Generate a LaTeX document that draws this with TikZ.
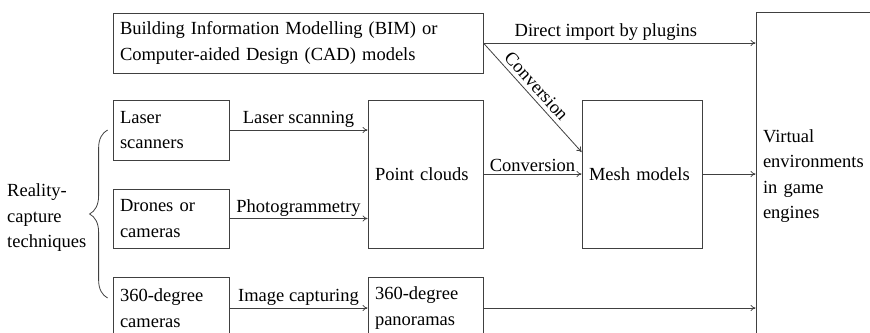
\documentclass[tikz,border=0pt]{standalone}
\usepackage{fontspec}
\setmainfont{Liberation Serif}
\usetikzlibrary{arrows.meta,decorations.pathreplacing}

\begin{document}
\begin{tikzpicture}[x=1pt, y=1pt,
  font=\fontsize{18.5}{25.5}\selectfont,
  box/.style={draw=black!75, line width=0.8pt, align=left, inner xsep=7pt, inner ysep=0pt},
  arr/.style={draw=black!75, line width=0.8pt, -{To[length=5pt,width=6pt]}},
  lbl/.style={inner sep=2pt}]

\useasboundingbox (0,0) rectangle (870,-332);
\clip (0,0) rectangle (870,-332);

\node [box, text width=356, minimum height=60] (bim) at (298,-43) {Building Information Modelling (BIM) or\\Computer-aided Design (CAD) models};

\node [box, text width=102, minimum height=60] (laser) at (171,-130) {Laser\\scanners};
\node [box, text width=102, minimum height=59] (drones) at (171,-218.5) {Drones or\\cameras};
\node [box, text width=102, minimum height=62] (cams) at (171,-308) {360-degree\\cameras};

\node [box, text width=101, minimum height=148] (pc) at (425.5,-174) {Point clouds};
\node [box, text width=101, minimum height=62] (pano) at (425.5,-308) {360-degree\\panoramas};

\node [box, text width=106, minimum height=148] (mesh) at (642,-174) {Mesh models};

\node [box, text width=156, minimum height=328] (ve) at (841,-176) {Virtual\\environments\\in game\\engines};

\node [anchor=west, align=left, inner sep=0pt] (rct) at (7,-218) {Reality-\\capture\\techniques};

% arrows
\draw [arr] (bim.east) -- (bim.east -| ve.west) node [lbl, pos=0.45, above] {Direct import by plugins};
\draw [arr] (bim.east) -- ([yshift=22pt]mesh.west) node [inner sep=4pt, pos=0.46, above, sloped] {Conversion};
\draw [arr] (laser.east) -- (laser.east -| pc.west) node [lbl, midway, above] {Laser scanning};
\draw [arr] (drones.east) -- (drones.east -| pc.west) node [lbl, midway, above] {Photogrammetry};
\draw [arr] (cams.east) -- (pano.west) node [lbl, midway, above] {Image capturing};
\draw [arr] (pc.east) -- (mesh.west) node [lbl, midway, above] {Conversion};
\draw [arr] (mesh.east) -- (mesh.east -| ve.west);
\draw [arr] (pano.east) -- (pano.east -| ve.west);

% brace
\draw [black!75, line width=0.8pt, decorate, decoration={brace, amplitude=18pt}]
  ([xshift=-5pt, yshift=10pt]cams.west) -- ([xshift=-5pt]laser.west);

\end{tikzpicture}
\end{document}
